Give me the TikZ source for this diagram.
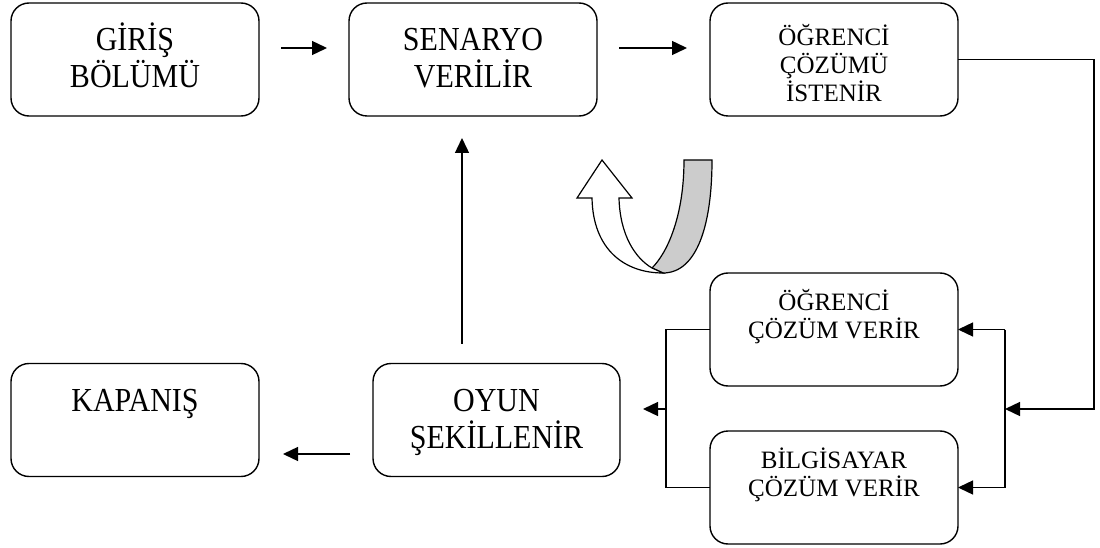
\documentclass[tikz,border=0pt]{standalone}
\usepackage{fontspec}
\setmainfont{Liberation Serif}
\usetikzlibrary{arrows.meta,calc}
% fixed top of the first text line, so every label starts at the same depth
\newcommand\bigtop{\rule{0pt}{28pt}}
\newcommand\smalltop{\rule{0pt}{23.5pt}}
\begin{document}
\begin{tikzpicture}[x=1pt,y=-1pt,
  box/.style={draw, line width=1.4pt, rounded corners=18pt,
    minimum width=248pt, minimum height=113pt, inner sep=0pt, outer sep=0pt},
  bigtxt/.style={font=\fontsize{30}{33}\selectfont, align=center, anchor=north,
    inner sep=0pt, yscale=1.12, transform shape},
  smalltxt/.style={font=\fontsize{25}{28}\selectfont, align=center, anchor=north, inner sep=0pt},
  link/.style={line width=1.4pt},
  arr/.style={link, -{Triangle[length=15pt,width=14pt]}},
  ribbon/.style={line width=1.2pt, line join=miter}]
\useasboundingbox (0,0) rectangle (1100,548);

% process boxes
\node[box] (giris)   at (135,59.5)  {};
\node[box] (senaryo) at (473,59.5)  {};
\node[box] (istenir) at (834,59.5)  {};
\node[box] (verir1)  at (834,329.5) {};
\node[box] (verir2)  at (834,487.5) {};
\node[box, minimum width=247pt] (oyun) at (496.5,420) {};
\node[box] (kapanis) at (135,420)   {};

% box texts
\node[bigtxt]   (giris-t)   at ($(giris.north)+(0,16)$)    {\bigtop GİRİŞ\\BÖLÜMÜ};
\node[bigtxt]   (senaryo-t) at ($(senaryo.north)+(0,16)$)  {\bigtop SENARYO\\VERİLİR};
\node[smalltxt] (istenir-t) at ($(istenir.north)+(0,18.5)$){\smalltop ÖĞRENCİ\\ÇÖZÜMÜ\\İSTENİR};
\node[smalltxt] (verir1-t)  at ($(verir1.north)+(0,13.5)$) {\smalltop ÖĞRENCİ\\ÇÖZÜM VERİR};
\node[smalltxt] (verir2-t)  at ($(verir2.north)+(0,13.5)$) {\smalltop BİLGİSAYAR\\ÇÖZÜM VERİR};
\node[bigtxt]   (oyun-t)    at ($(oyun.north)+(0,16)$)     {\bigtop OYUN\\ŞEKİLLENİR};
\node[bigtxt]   (kapanis-t) at ($(kapanis.north)+(0,16)$)  {\bigtop KAPANIŞ};

% junction points of the two branches
\coordinate (rt) at (1094,409);
\coordinate (rj) at (1005,409);
\coordinate (lj) at (666,409);

% main flow
\draw[arr] ($(giris.east)+(22,-11.5)$) -- ($(senaryo.west)+(-22,-11.5)$);
\draw[arr] ($(senaryo.east)+(22,-11.5)$) -- ($(istenir.west)+(-23,-11.5)$);
\draw[arr] (istenir.east) -| (rt) -- (rj);
\draw[link] (rj |- verir1.east) -- (rj |- verir2.east);
\draw[arr] (rj |- verir1.east) -- (verir1.east);
\draw[arr] (rj |- verir2.east) -- (verir2.east);
\draw[link] (verir1.west) -| (lj) |- (verir2.west);
\draw[arr] (lj) -- ($(oyun.east)+(23,-11)$);
\draw[arr] ($(oyun.west)+(-23,34)$) -- ($(kapanis.east)+(24,34)$);
\draw[arr] ($(oyun.north)+(-34.5,-20)$) -- ($(senaryo.south)+(-11,22)$);

% U-turn ribbon arrow: shaded back strip, then the white front arm
\draw[ribbon, fill=gray!40] (684,160) -- (712,160)
  .. controls (712,225) and (697,273) .. (663,273) -- (652,268)
  .. controls (668,252) and (684,215) .. (684,160) -- cycle;
\draw[ribbon, fill=white] (602,160) -- (632,198) -- (619,198)
  .. controls (620,235) and (635,258) .. (652,268) -- (663,273)
  .. controls (625,273) and (593,250) .. (592,198) -- (577,198) -- cycle;
\end{tikzpicture}
\end{document}
